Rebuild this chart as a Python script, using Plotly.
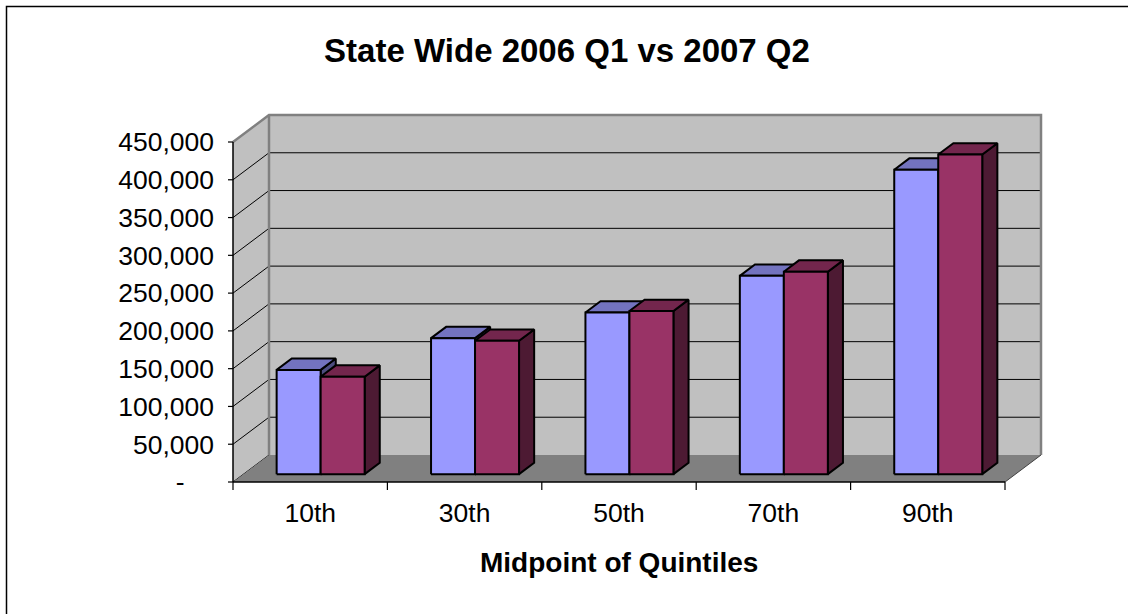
import plotly.graph_objects as go

# ---------------- data ----------------
categories = ["10th", "30th", "50th", "70th", "90th"]
series_names = ["2006 Q1", "2007 Q2"]
q1_2006 = [138000, 180000, 214000, 262500, 403000]
q2_2007 = [129000, 176500, 216000, 268000, 423000]
y_tick_values = [0, 50000, 100000, 150000, 200000, 250000, 300000, 350000, 400000, 450000]
y_tick_labels = ["-\u00a0\u00a0\u00a0\u00a0", "50,000", "100,000", "150,000", "200,000",
                 "250,000", "300,000", "350,000", "400,000", "450,000"]
chart_title = "State Wide 2006 Q1 vs 2007 Q2"
x_title = "Midpoint of Quintiles"

# ---------------- geometry / style ----------------
W, H = 1128, 614
AX_L, AX_R = 233, 1005      # front axis pixel extent (x)
AX_B, AX_T = 482, 142       # front axis pixel extent (y)
DPX, DPY = 36, 27           # 3D depth offset in pixels
YMAX = y_tick_values[-1]
N = len(categories)
PXX = (AX_R - AX_L) / N
PXY = (AX_B - AX_T) / YMAX
DX = DPX / PXX
DY = DPY / PXY
PADL, PADR, PADT, PADB = 10, 4, 4, 12

Z_F, Z_B = 0.29, 0.71
BAR_W = 44 / PXX

FONT = "Liberation Sans, Arial, sans-serif"
WALL = "#C0C0C0"
FLOOR = "#808080"
EDGE = "#808080"
colors = [
    dict(front="#9999FF", top="#7373BF", side="#4D4D80"),
    dict(front="#993366", top="#73264D", side="#4D1A33"),
]

fig = go.Figure()


def poly(xs, ys, fill, line_color=None, width=0):
    fig.add_trace(go.Scatter(
        x=xs, y=ys, mode="lines", fill="toself", fillcolor=fill,
        line=dict(color=line_color or fill, width=width),
        hoverinfo="skip", showlegend=False))


def lines(xs, ys, color, width):
    fig.add_trace(go.Scatter(
        x=xs, y=ys, mode="lines", line=dict(color=color, width=width),
        hoverinfo="skip", showlegend=False))


# back wall
poly([DX, N + DX, N + DX, DX, DX], [DY, DY, YMAX + DY, YMAX + DY, DY], WALL)
# side wall
poly([0, DX, DX, 0, 0], [0, DY, YMAX + DY, YMAX, 0], WALL)

# gridlines (back wall horizontal + side wall diagonal)
gx, gy = [], []
for v in y_tick_values[1:-1]:
    gx += [DX, N + DX, None]
    gy += [v + DY, v + DY, None]
for v in y_tick_values[:-1]:
    gx += [0, DX, None]
    gy += [v, v + DY, None]
lines(gx, gy, "#000000", 1)

# floor
poly([0, N, N + DX, DX, 0], [0, 0, DY, DY, 0], FLOOR)

# wall edges
lines([0, DX, N + DX, N + DX], [YMAX, YMAX + DY, YMAX + DY, DY], EDGE, 2.5)
lines([DX, DX], [DY, YMAX + DY], EDGE, 2.5)
lines([N, N + DX], [0, DY], "#404040", 1)

# axis lines
lines([0, 0], [0, YMAX], "#000000", 1.5)
lines([0, N], [0, 0], "#000000", 1.5)
# tick marks
tx, ty = [], []
for v in y_tick_values:
    tx += [-5 / PXX, 0, None]
    ty += [v, v, None]
lines(tx, ty, "#000000", 1.2)
tx, ty = [], []
for i in range(N + 1):
    tx += [i, i, None]
    ty += [0, -8 / PXY, None]
lines(tx, ty, "#000000", 1.2)

# bars
base_f = Z_F * DY
dd_x = (Z_B - Z_F) * DX
dd_y = (Z_B - Z_F) * DY
for s, vals in enumerate([q1_2006, q2_2007]):
    fx, fy, tx_, ty_, sx, sy = [], [], [], [], [], []
    for i, v in enumerate(vals):
        c = i + 0.5 + Z_F * DX
        x0 = c - BAR_W + s * BAR_W
        x1 = x0 + BAR_W
        top = v + base_f
        # side
        sx += [x1, x1 + dd_x, x1 + dd_x, x1, x1, None]
        sy += [base_f, base_f + dd_y, top + dd_y, top, base_f, None]
        # top
        tx_ += [x0, x1, x1 + dd_x, x0 + dd_x, x0, None]
        ty_ += [top, top, top + dd_y, top + dd_y, top, None]
        # front
        fx += [x0, x1, x1, x0, x0, None]
        fy += [base_f, base_f, top, top, base_f, None]
    poly(sx, sy, colors[s]["side"], "#000000", 2)
    poly(tx_, ty_, colors[s]["top"], "#000000", 2)
    poly(fx, fy, colors[s]["front"], "#000000", 2)

# ---------------- layout ----------------
m_l = AX_L - PADL
m_r = W - (AX_R + DPX + PADR)
m_t = (AX_T - DPY) - PADT
m_b = H - (AX_B + PADB)
plot_h = H - m_t - m_b

fig.update_layout(
    width=W, height=H,
    margin=dict(l=m_l, r=m_r, t=m_t, b=m_b, pad=0),
    paper_bgcolor="white", plot_bgcolor="white",
    showlegend=False,
    title=dict(text=chart_title, x=567 / W, y=1 - 50 / H, xref="container", yref="container",
               xanchor="center", yanchor="middle",
               font=dict(family=FONT, size=33, color="#000000", weight="bold")),
    xaxis=dict(range=[-PADL / PXX, N + DX + PADR / PXX], showgrid=False, zeroline=False,
               showline=False, ticks="", tickvals=[i + 0.5 for i in range(N)], ticktext=categories,
               tickfont=dict(family=FONT, size=26.5, color="#000000"), ticklabelstandoff=0,
               fixedrange=True),
    yaxis=dict(range=[-PADB / PXY, YMAX + DY + PADT / PXY], showgrid=False, zeroline=False,
               showline=False, ticks="", tickvals=y_tick_values, ticktext=y_tick_labels,
               tickfont=dict(family=FONT, size=26.5, color="#000000"), ticklabelstandoff=8,
               fixedrange=True),
    annotations=[dict(text="<b>" + x_title + "</b>", x=N / 2, xref="x",
                      y=((H - m_b) - 562) / plot_h, yref="paper",
                      xanchor="center", yanchor="middle", showarrow=False,
                      font=dict(family=FONT, size=28, color="#000000"))],
    shapes=[dict(type="rect", xref="paper", yref="paper",
                 x0=(6.5 - m_l) / (W - m_l - m_r), x1=(W + 20 - m_l) / (W - m_l - m_r),
                 y0=((H - m_b) - (H + 20)) / plot_h, y1=((H - m_b) - 6.5) / plot_h,
                 line=dict(color="#000000", width=1.5), fillcolor="rgba(0,0,0,0)")],
)

fig.write_html("out.html")
